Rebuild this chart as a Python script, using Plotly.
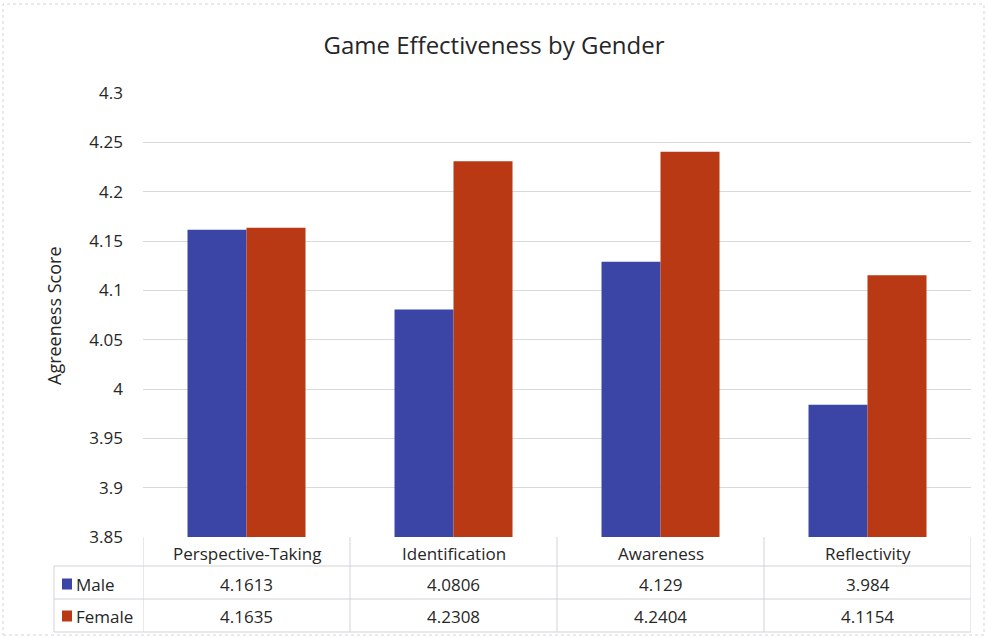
import plotly.graph_objects as go

# Survey results: mean agreeness score per game dimension, by gender
categories = ["Perspective-Taking", "Identification", "Awareness", "Reflectivity"]
male_scores = [4.1613, 4.0806, 4.129, 3.984]
female_scores = [4.1635, 4.2308, 4.2404, 4.1154]
male_labels = ["4.1613", "4.0806", "4.129", "3.984"]
female_labels = ["4.1635", "4.2308", "4.2404", "4.1154"]
y_ticks = [3.85, 3.9, 3.95, 4.0, 4.05, 4.1, 4.15, 4.2, 4.25, 4.3]
y_tick_text = ["3.85", "3.9", "3.95", "4", "4.05", "4.1", "4.15", "4.2", "4.25", "4.3"]

MALE_COLOR = "#3A45A6"
FEMALE_COLOR = "#B83914"
FONT = "'Open Sans', Lato, sans-serif"
TEXT = "#262626"
LINE = "#cfd3d8"

W, H = 988, 638
ML, MR, MT, MB = 143, 17, 93, 101
PW, PH = W - ML - MR, H - MT - MB


def px_x(px):
    """Horizontal pixel position -> paper coordinate."""
    return (px - ML) / PW


def px_y(py):
    """Vertical pixel position -> paper / y-domain coordinate."""
    return (H - MB - py) / PH


fig = go.Figure()
fig.add_trace(go.Bar(x=categories, y=male_scores, name="Male",
                     marker=dict(color=MALE_COLOR, line=dict(width=0))))
fig.add_trace(go.Bar(x=categories, y=female_scores, name="Female",
                     marker=dict(color=FEMALE_COLOR, line=dict(width=0))))

shapes = []
annotations = []

# Data table under the plot area
row_header_bottom = px_y(566)
row_male_bottom = px_y(599)
row_female_bottom = px_y(632)
label_left = px_x(54)
n = len(categories)

# vertical rules at category boundaries
for i in range(n + 1):
    shapes.append(dict(type="line", xref="x", yref="y domain",
                       x0=i - 0.5, x1=i - 0.5, y0=0, y1=row_female_bottom,
                       line=dict(color=LINE, width=1)))
# left edge of the series-label column
shapes.append(dict(type="line", xref="paper", yref="y domain",
                   x0=label_left, x1=label_left, y0=row_header_bottom, y1=row_female_bottom,
                   line=dict(color=LINE, width=1)))
# horizontal rules
for yy in (row_header_bottom, row_male_bottom, row_female_bottom):
    shapes.append(dict(type="line", xref="paper", yref="y domain",
                       x0=label_left, x1=1, y0=yy, y1=yy,
                       line=dict(color=LINE, width=1)))

header_mid = px_y(553)
male_mid = px_y(584)
female_mid = px_y(616)
cell_font = dict(family=FONT, size=17, color=TEXT)

for cat in categories:
    annotations.append(dict(x=cat, y=header_mid, xref="x", yref="y domain",
                            text=cat, showarrow=False,
                            xanchor="center", yanchor="middle", font=cell_font))
for cat, ml, fl in zip(categories, male_labels, female_labels):
    annotations.append(dict(x=cat, y=male_mid, xref="x", yref="y domain",
                            text=ml, showarrow=False,
                            xanchor="center", yanchor="middle", font=cell_font))
    annotations.append(dict(x=cat, y=female_mid, xref="x", yref="y domain",
                            text=fl, showarrow=False,
                            xanchor="center", yanchor="middle", font=cell_font))

# legend keys inside the table
for name, color, mid in (("Male", MALE_COLOR, male_mid), ("Female", FEMALE_COLOR, female_mid)):
    half = 5.5 / PH
    shapes.append(dict(type="rect", xref="paper", yref="y domain",
                       x0=px_x(62), x1=px_x(72), y0=mid - half, y1=mid + half,
                       fillcolor=color, line=dict(width=0)))
    annotations.append(dict(x=px_x(74), y=mid, xref="paper", yref="y domain",
                            text=name, showarrow=False,
                            xanchor="left", yanchor="middle", font=cell_font))

# y axis title
annotations.append(dict(x=px_x(54), y=px_y(316), xref="paper", yref="paper",
                        text="Agreeness Score", showarrow=False, textangle=-90,
                        xanchor="center", yanchor="middle",
                        font=dict(family=FONT, size=18, color=TEXT)))

# outer chart border
shapes.append(dict(type="rect", xref="paper", yref="paper",
                   x0=px_x(3), x1=px_x(984), y0=px_y(635), y1=px_y(4),
                   line=dict(color="#d4d4d4", width=1, dash="dot"),
                   fillcolor="rgba(0,0,0,0)", layer="below"))

fig.update_layout(
    width=W, height=H,
    margin=dict(l=ML, r=MR, t=MT, b=MB),
    paper_bgcolor="white", plot_bgcolor="white",
    barmode="group", bargap=0.43, bargroupgap=0,
    showlegend=False,
    title=dict(text="Game Effectiveness by Gender", x=0.5, xanchor="center",
               y=1 - 46 / H, yanchor="middle",
               font=dict(family=FONT, size=24, color=TEXT)),
    xaxis=dict(showticklabels=False, showgrid=False, zeroline=False,
               showline=False, ticks="", range=[-0.5, n - 0.5]),
    yaxis=dict(range=[3.85, 4.3], tickvals=y_ticks, ticktext=y_tick_text,
               showgrid=True, gridcolor="#d9d9d9", gridwidth=1,
               zeroline=False, showline=False, ticks="",
               ticklabelstandoff=19,
               tickfont=dict(family=FONT, size=17, color=TEXT)),
    shapes=shapes,
    annotations=annotations,
)

fig.write_html("out.html")
